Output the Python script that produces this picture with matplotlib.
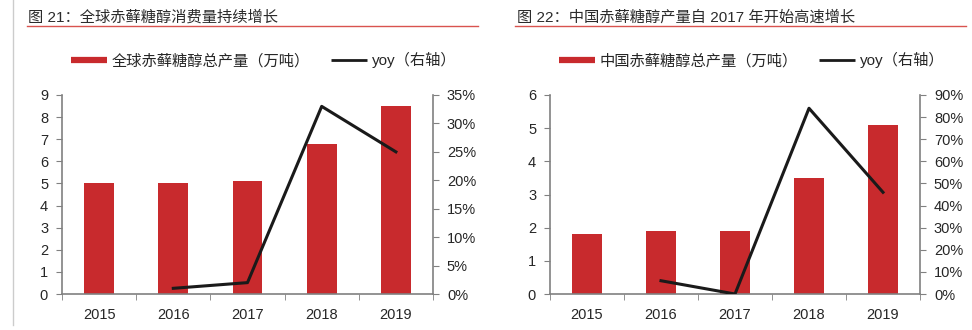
import matplotlib
matplotlib.use('Agg')
import matplotlib.pyplot as plt
from matplotlib.lines import Line2D
from matplotlib.ticker import MultipleLocator, FuncFormatter

plt.rcParams['font.family'] = ['Liberation Sans', 'Noto Sans CJK SC', 'DejaVu Sans']

# data
years = ['2015', '2016', '2017', '2018', '2019']
global_output = [5.0, 5.0, 5.1, 6.8, 8.5]
global_yoy = [None, 0.01, 0.02, 0.33, 0.25]
china_output = [1.8, 1.9, 1.9, 3.5, 5.1]
china_yoy = [None, 0.06, 0.0, 0.84, 0.46]

titles = ['图 21：全球赤藓糖醇消费量持续增长', '图 22：中国赤藓糖醇产量自 2017 年开始高速增长']
bar_labels = ['全球赤藓糖醇总产量（万吨）', '中国赤藓糖醇总产量（万吨）']
line_label = 'yoy（右轴）'

W, H = 972, 330
RED = '#C82A2D'
SPINE = '#808080'
TXT = '#262626'

fig = plt.figure(figsize=(W / 100, H / 100), dpi=100)


def px_axes(x0, x1, ytop, ybot):
    return fig.add_axes([x0 / W, 1 - ybot / H, (x1 - x0) / W, (ybot - ytop) / H])


def panel(x0, x1, title, title_x, rule, bars, yoy, bar_label, ymax, ystep, rmax, rstep):
    ax = px_axes(x0, x1, 95, 294)
    x = list(range(len(years)))
    ax.bar(x, bars, width=0.4, color=RED, zorder=2)
    ax.set_xlim(-0.5, len(years) - 0.5)
    ax.set_ylim(0, ymax)
    ax.yaxis.set_major_locator(MultipleLocator(ystep))
    ax.set_xticks(x)
    ax.set_xticklabels(years)
    ax.set_xticks([i - 0.5 for i in range(len(years) + 1)], minor=True)
    ax.tick_params(axis='x', which='major', length=0, pad=10, labelsize=10.5, colors=TXT)
    ax.tick_params(axis='x', which='minor', length=4, color=SPINE, direction='out')
    ax.tick_params(axis='y', length=4, color=SPINE, labelsize=10.5, labelcolor=TXT, pad=6)
    for s in ['top', 'right']:
        ax.spines[s].set_visible(False)
    for s in ['left', 'bottom']:
        ax.spines[s].set_color(SPINE)
        ax.spines[s].set_linewidth(1.2)

    ax2 = ax.twinx()
    xs = [i for i, v in zip(x, yoy) if v is not None]
    ys = [v for v in yoy if v is not None]
    ax2.plot(xs, ys, color='#1a1a1a', lw=2.2, zorder=3)
    ax2.set_ylim(0, rmax)
    ax2.yaxis.set_major_locator(MultipleLocator(rstep))
    ax2.yaxis.set_major_formatter(FuncFormatter(lambda v, p: f'{v * 100:.0f}%'))
    ax2.tick_params(axis='y', length=4, color=SPINE, labelsize=10.5, labelcolor=TXT, pad=6)
    for s in ['top', 'left', 'bottom']:
        ax2.spines[s].set_visible(False)
    ax2.spines['right'].set_color(SPINE)
    ax2.spines['right'].set_linewidth(1.2)

    # title and red rule
    fig.text(title_x / W, 1 - 17 / H, title, fontsize=11, color='#2b2b2b', va='center', ha='left')
    fig.add_artist(Line2D([rule[0] / W, rule[1] / W], [1 - 26 / H, 1 - 26 / H],
                          color='#D9534F', lw=1.0))

    handles = [Line2D([], [], color=RED, lw=4.5, solid_capstyle='butt'),
               Line2D([], [], color='#1a1a1a', lw=2.0, solid_capstyle='butt')]
    fig.legend(handles, [bar_label, line_label], loc='center left',
               bbox_to_anchor=((x0 + 9) / W, 1 - 60 / H), ncol=2, frameon=False,
               fontsize=11, handlelength=2.35, handletextpad=0.3, columnspacing=1.4,
               labelcolor=TXT, borderaxespad=0, borderpad=0)


panel(62, 433, titles[0], 28, (27, 478), global_output, global_yoy, bar_labels[0], 9, 1, 0.35, 0.05)
panel(550, 920, titles[1], 517, (515, 966), china_output, china_yoy, bar_labels[1], 6, 1, 0.90, 0.10)

# page margin line
fig.add_artist(Line2D([13 / W, 13 / W], [0.015, 1], color='#CCCCCC', lw=1.0))

fig.savefig('out.png', dpi=100)
